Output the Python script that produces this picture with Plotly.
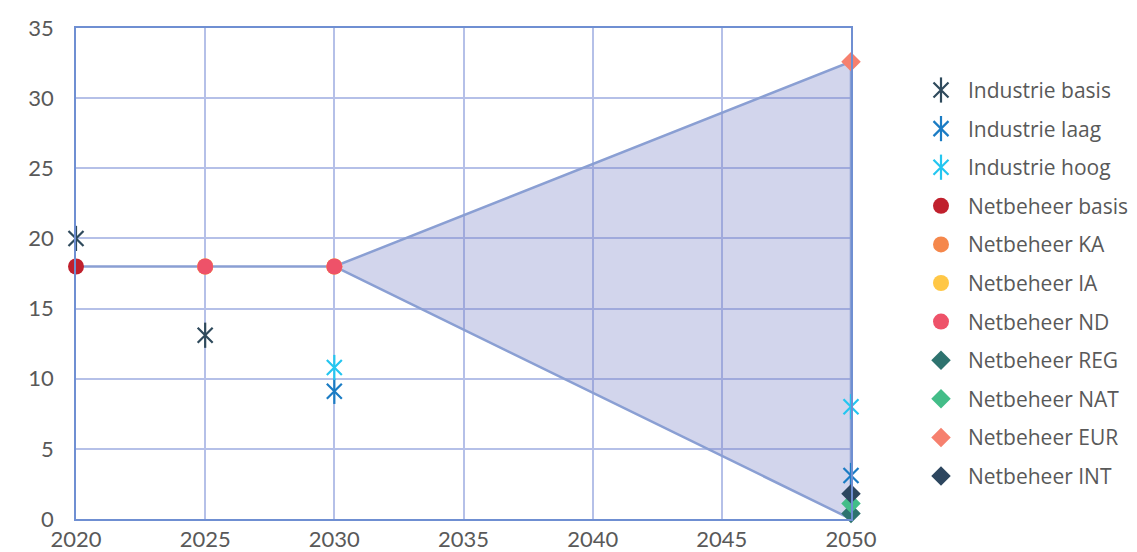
import plotly.graph_objects as go

# Scenario values (GW) per year
ind_basis_x = [2020, 2025]
ind_basis_y = [20.0, 13.1]
ind_laag_x = [2030, 2050]
ind_laag_y = [9.1, 3.1]
ind_hoog_x = [2030, 2050]
ind_hoog_y = [10.8, 8.0]

nb_basis_x = [2020]
nb_basis_y = [18.0]
nb_ka_x = [2025, 2030]
nb_ka_y = [18.0, 18.0]
nb_ia_x = [2025, 2030]
nb_ia_y = [18.0, 18.0]
nb_nd_x = [2025, 2030]
nb_nd_y = [18.0, 18.0]
nb_reg_x = [2050]
nb_reg_y = [0.4]
nb_nat_x = [2050]
nb_nat_y = [1.1]
nb_eur_x = [2050]
nb_eur_y = [32.6]
nb_int_x = [2050]
nb_int_y = [1.8]

# Range band: upper edge and lower edge
band_upper_x = [2020, 2030, 2050]
band_upper_y = [18.0, 18.0, 32.6]
band_lower_x = [2050, 2030]
band_lower_y = [0.0, 18.0]

x_ticks = [2020, 2025, 2030, 2035, 2040, 2045, 2050]
y_ticks = [0, 5, 10, 15, 20, 25, 30, 35]

TICK_FONT = dict(family="Lato", size=22, color="#595959")
LEG_FONT = dict(family="Open Sans", size=21, color="#595959")

series = [
    ("Industrie basis", ind_basis_x, ind_basis_y, "star", "#2f4a5c"),
    ("Industrie laag", ind_laag_x, ind_laag_y, "star", "#1b7cc4"),
    ("Industrie hoog", ind_hoog_x, ind_hoog_y, "star", "#24c6f0"),
    ("Netbeheer basis", nb_basis_x, nb_basis_y, "circle", "#c0202d"),
    ("Netbeheer KA", nb_ka_x, nb_ka_y, "circle", "#f5874b"),
    ("Netbeheer IA", nb_ia_x, nb_ia_y, "circle", "#ffc746"),
    ("Netbeheer ND", nb_nd_x, nb_nd_y, "circle", "#ee5269"),
    ("Netbeheer REG", nb_reg_x, nb_reg_y, "diamond", "#2e736f"),
    ("Netbeheer NAT", nb_nat_x, nb_nat_y, "diamond", "#43bd88"),
    ("Netbeheer EUR", nb_eur_x, nb_eur_y, "diamond", "#f6806e"),
    ("Netbeheer INT", nb_int_x, nb_int_y, "diamond", "#2d465f"),
]

fig = go.Figure()

fig.add_trace(go.Scatter(
    x=band_upper_x + band_lower_x,
    y=band_upper_y + band_lower_y,
    mode="lines", fill="toself",
    fillcolor="rgba(115,125,195,0.32)",
    line=dict(color="#8a9fd3", width=2.5),
    hoverinfo="skip", showlegend=False,
))


def add_marks(x, y, symbol, color, xa="x", ya="y"):
    if symbol == "star":
        # x plus a vertical stroke: six-armed star
        for sym, sz in (("x-thin-open", 15), ("line-ns-open", 18)):
            fig.add_trace(go.Scatter(
                x=x, y=y, mode="markers", xaxis=xa, yaxis=ya,
                marker=dict(symbol=sym, size=sz, color=color,
                            line=dict(color=color, width=2.2)),
                cliponaxis=False, showlegend=False,
            ))
    elif symbol == "circle":
        fig.add_trace(go.Scatter(
            x=x, y=y, mode="markers", xaxis=xa, yaxis=ya,
            marker=dict(symbol="circle", size=16, color=color, line=dict(width=0)),
            cliponaxis=False, showlegend=False,
        ))
    else:
        fig.add_trace(go.Scatter(
            x=x, y=y, mode="markers", xaxis=xa, yaxis=ya,
            marker=dict(symbol="diamond", size=15, color=color, line=dict(width=0)),
            cliponaxis=False, showlegend=False,
        ))


for name, x, y, sym, col in series:
    add_marks(x, y, sym, col)

# Legend drawn on a pixel-scaled side axis
W, H = 1137, 552
ML, MR, MT, MB = 76, 0, 28, 33
plot_right = 851
leg_left = 880
leg_x = 941
leg_y0 = 90
leg_dy = 38.6
annotations = []
for i, (name, x, y, sym, col) in enumerate(series):
    ly = leg_y0 + i * leg_dy
    add_marks([leg_x], [ly], sym, col, xa="x2", ya="y2")
    annotations.append(dict(
        x=leg_x + 25, y=ly, xref="x2", yref="y2", text=name,
        showarrow=False, xanchor="left", yanchor="middle",
        font=LEG_FONT,
    ))

axis_line = "#6f8fd2"
grid = "#b5c0e8"
pw = W - ML - MR

fig.update_layout(
    width=W, height=H,
    margin=dict(l=ML, r=MR, t=MT, b=MB, autoexpand=False),
    paper_bgcolor="white", plot_bgcolor="rgba(0,0,0,0)",
    font=dict(family="Lato", size=19, color="#595959"),
    showlegend=False,
    annotations=annotations,
    xaxis=dict(
        domain=[0, (plot_right - ML) / pw],
        range=[2020, 2050], tickvals=x_ticks, automargin=False,
        showgrid=True, gridcolor=grid, gridwidth=1.5,
        showline=True, linecolor=axis_line, linewidth=1.5, mirror=True,
        zeroline=False, ticks="", ticklabelstandoff=0,
        tickfont=TICK_FONT,
    ),
    yaxis=dict(
        range=[0, 35], tickvals=y_ticks, automargin=False,
        showgrid=True, gridcolor=grid, gridwidth=1.5,
        showline=True, linecolor=axis_line, linewidth=1.5, mirror=True,
        zeroline=False, ticks="", ticklabelstandoff=16,
        tickfont=TICK_FONT,
    ),
    xaxis2=dict(
        domain=[(leg_left - ML) / pw, 1], range=[leg_left, W - MR], anchor="y2",
        visible=False, fixedrange=True, automargin=False,
    ),
    yaxis2=dict(
        domain=[0, 1], range=[H - MB, MT], anchor="x2",
        visible=False, fixedrange=True, automargin=False,
    ),
)

fig.write_html("out.html")
